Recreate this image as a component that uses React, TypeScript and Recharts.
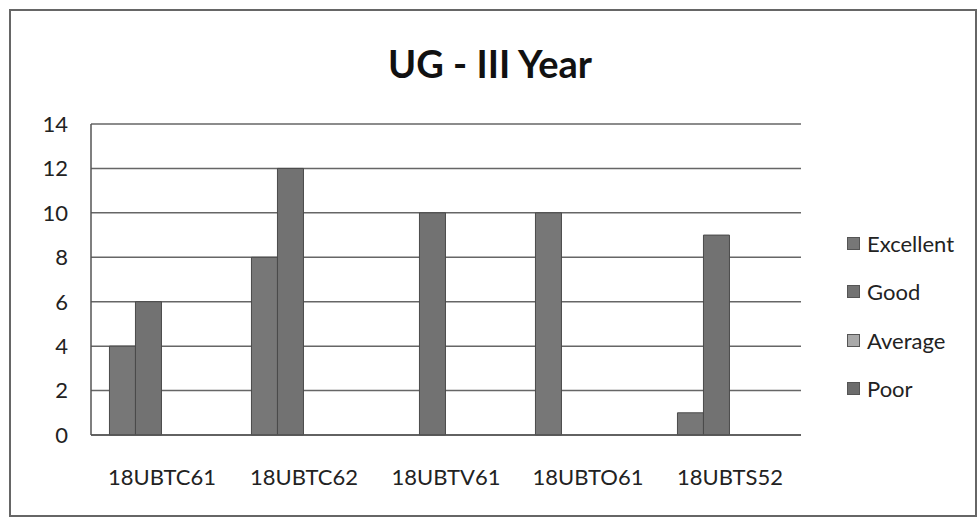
import { BarChart, Bar, XAxis, YAxis, CartesianGrid } from 'recharts';

// course codes on the x axis
const courses = ['18UBTC61', '18UBTC62', '18UBTV61', '18UBTO61', '18UBTS52'];

// counts per rating
const excellent = [4, 8, 0, 10, 1];
const good = [6, 12, 10, 0, 9];
const average = [0, 0, 0, 0, 0];
const poor = [0, 0, 0, 0, 0];

const yTicks = [0, 2, 4, 6, 8, 10, 12, 14];

const series = [
  { key: 'Excellent', values: excellent, fill: '#777777' },
  { key: 'Good', values: good, fill: '#727272' },
  { key: 'Average', values: average, fill: '#a9a9a9' },
  { key: 'Poor', values: poor, fill: '#6c6c6c' },
];

const data = courses.map((name, i) => {
  const row: Record<string, string | number> = { name };
  series.forEach((s) => {
    row[s.key] = s.values[i];
  });
  return row;
});

const font = 'Lato, "Open Sans", sans-serif';

// legend drawn beside the plot, like the original Excel one
function LegendBox() {
  return (
    <div
      style={{
        position: 'absolute',
        left: 847,
        top: 219,
        fontFamily: font,
        fontSize: 22,
        color: '#222',
      }}
    >
      {series.map((s) => (
        <div
          key={s.key}
          style={{ display: 'flex', alignItems: 'center', height: 48.5 }}
        >
          <span
            style={{
              display: 'inline-block',
              width: 11,
              height: 11,
              background: s.fill,
              border: '1px solid #555',
              marginRight: 7,
            }}
          />
          {s.key}
        </div>
      ))}
    </div>
  );
}

export default function App() {
  return (
    <div
      style={{
        position: 'absolute',
        left: 0,
        top: 0,
        width: 980,
        height: 523,
        background: '#fff',
        fontFamily: font,
      }}
    >
      {/* outer frame of the scanned chart */}
      <div
        style={{
          position: 'absolute',
          left: 9,
          top: 9,
          width: 964,
          height: 504,
          border: '2px solid #666',
        }}
      />
      <div
        style={{
          position: 'absolute',
          left: 0,
          width: 980,
          top: 44,
          textAlign: 'center',
          fontSize: 38,
          lineHeight: '38px',
          fontWeight: 700,
          color: '#111',
        }}
      >
        UG - III Year
      </div>
      <div style={{ position: 'absolute', left: 0, top: 0 }}>
        <BarChart
          width={980}
          height={523}
          data={data}
          margin={{ top: 124, right: 179, left: 0, bottom: 0 }}
          barCategoryGap="13%"
          barGap={0}
        >
          <CartesianGrid
            vertical={false}
            stroke="#666"
            strokeWidth={1.5}
          />
          <XAxis
            dataKey="name"
            height={88}
            tickLine={false}
            tickSize={0}
            axisLine={{ stroke: '#555', strokeWidth: 1.5 }}
            tickMargin={34}
            tick={{ fill: '#222', fontSize: 22, fontFamily: font }}
            interval={0}
          />
          <YAxis
            width={91}
            domain={[0, 14]}
            ticks={yTicks}
            tickLine={false}
            tickSize={0}
            tickMargin={23}
            axisLine={{ stroke: '#555', strokeWidth: 1.5 }}
            tick={{ fill: '#222', fontSize: 22, fontFamily: font }}
          />
          {series.map((s) => (
            <Bar
              key={s.key}
              dataKey={s.key}
              fill={s.fill}
              stroke="#4a4a4a"
              strokeWidth={1}
              isAnimationActive={false}
            />
          ))}
        </BarChart>
      </div>
      <LegendBox />
    </div>
  );
}
